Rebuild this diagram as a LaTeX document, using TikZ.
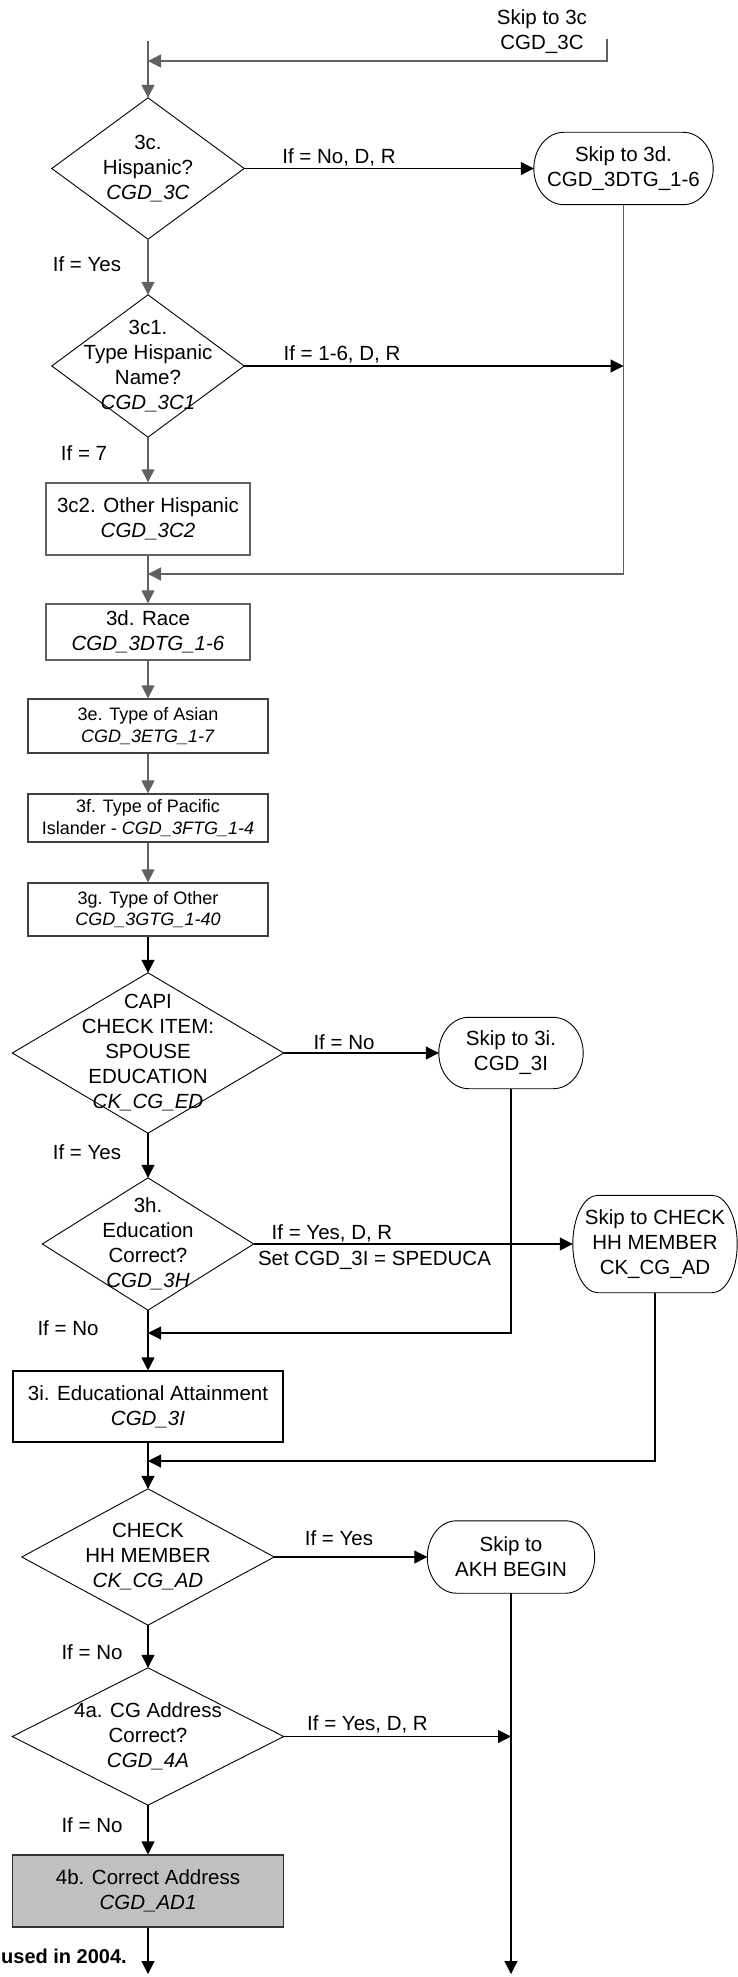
\documentclass[tikz,border=0pt]{standalone}
\usepackage{fontspec}
\setmainfont{Liberation Sans}
\usetikzlibrary{arrows.meta,calc}
\newcommand\fsn{\fontsize{20.5}{25}\selectfont}
\newcommand\fsm{\fontsize{18}{21.5}\selectfont}
\newcommand\termshape[3]{% node, x radius, style
  \draw[#3] let \p1=(#1.north), \p2=(#1.south), \n1={(\y1-\y2)/2} in
    ([xshift=#2]#1.north west) -- ([xshift=-#2]#1.north east)
    arc[start angle=90, end angle=-90, x radius=#2, y radius={\n1*1pt}]
    -- ([xshift=#2]#1.south west)
    arc[start angle=270, end angle=90, x radius=#2, y radius={\n1*1pt}] -- cycle;}
\newcommand\diamondshape[2]{\draw[#2] (#1.north) -- (#1.east) -- (#1.south) -- (#1.west) -- cycle;}
\begin{document}
\begin{tikzpicture}[x=1pt,y=-1pt,
  every node/.style={font=\fsn},
  ln/.style={draw=black, line width=1.1pt},
  lg/.style={draw=black!62, line width=1.4pt},
  ld/.style={draw=black, line width=0.9pt},
  arr/.style={-{Triangle[length=13pt,width=13pt]}},
  box/.style={rectangle, inner sep=0pt, align=center},
  lbl/.style={inner sep=0pt, anchor=center}
]
\useasboundingbox (0,0) rectangle (738,1977);
\clip (0,0) rectangle (738,1977);

% ---------- nodes ----------
\node[box] (s3c) at (542,31.5) {\fontsize{20.5}{27}\selectfont Skip to 3c\\CGD\_3C};
\node[box, minimum width=192pt, minimum height=141pt] (d3c) at (148,168.5) {3c.\\Hispanic?\\\textit{CGD\_3C}};
\node[box, minimum width=179pt, minimum height=72pt] (s3d) at (623.5,168.5) {Skip to 3d.\\CGD\_3DTG\_1-6};
\node[box, minimum width=192pt, minimum height=142pt] (d3c1) at (148,366) {3c1.\\Type Hispanic\\Name?\\\textit{CGD\_3C1}};
\node[box, minimum width=204pt, minimum height=72pt, draw=black!62, line width=1.4pt] (b3c2) at (148,519) {3c2. Other Hispanic\\\textit{CGD\_3C2}};
\node[box, minimum width=204pt, minimum height=56pt, draw=black!62, line width=1.4pt] (b3d) at (148,632) {3d. Race\\\textit{CGD\_3DTG\_1-6}};
\node[box, font=\fsm, minimum width=240pt, minimum height=54pt, draw=black!75, line width=1.3pt] (b3e) at (148,726) {3e. Type of Asian\\\textit{CGD\_3ETG\_1-7}};
\node[box, font=\fsm, minimum width=240pt, minimum height=48pt, draw=black!75, line width=1.3pt] (b3f) at (148,818) {3f. Type of Pacific\\Islander - \textit{CGD\_3FTG\_1-4}};
\node[box, font=\fsm, minimum width=240pt, minimum height=53pt, draw=black!75, line width=1.3pt] (b3g) at (148,909.5) {3g. Type of Other\\\textit{CGD\_3GTG\_1-40}};
\node[box, minimum width=271pt, minimum height=160pt] (dcapi) at (148,1053) {CAPI\\CHECK ITEM:\\SPOUSE\\EDUCATION\\\textit{CK\_CG\_ED}};
\node[box, minimum width=144pt, minimum height=71pt] (s3i) at (511,1053) {Skip to 3i.\\CGD\_3I};
\node[box, minimum width=211pt, minimum height=132pt] (d3h) at (148,1244) {3h.\\Education\\Correct?\\\textit{CGD\_3H}};
\node[box, minimum width=164pt, minimum height=97pt] (sck) at (655,1244) {Skip to CHECK\\HH MEMBER\\CK\_CG\_AD};
\node[box, minimum width=270pt, minimum height=71pt, draw=black, line width=1.1pt] (b3i) at (148,1406.5) {3i. Educational Attainment\\\textit{CGD\_3I}};
\node[box, minimum width=252pt, minimum height=136pt] (dck) at (148,1557) {CHECK\\HH MEMBER\\\textit{CK\_CG\_AD}};
\node[box, minimum width=167pt, minimum height=72pt] (sakh) at (511,1557) {Skip to\\AKH BEGIN};
\node[box, minimum width=271pt, minimum height=137pt] (d4a) at (148,1736.5) {4a. CG Address\\Correct?\\\textit{CGD\_4A}};
\node[box, minimum width=271pt, minimum height=72pt, draw=black!80, line width=1.1pt, fill={rgb,255:red,192;green,192;blue,192}] (b4b) at (148,1891) {4b. Correct Address\\\textit{CGD\_AD1}};

% ---------- outlines ----------
\diamondshape{d3c}{ld}
\diamondshape{d3c1}{ld}
\diamondshape{dcapi}{ld}
\diamondshape{d3h}{ld}
\diamondshape{dck}{ld}
\diamondshape{d4a}{ld}
\termshape{s3d}{30pt}{ld}
\termshape{s3i}{30pt}{ld}
\termshape{sck}{25pt}{ld}
\termshape{sakh}{29pt}{ld}

% ---------- labels ----------
\node[lbl] (l1) at (339,157) {If = No, D, R};
\node[lbl] (l2) at (87,264) {If = Yes};
\node[lbl] (l3) at (342,354) {If = 1-6, D, R};
\node[lbl] (l4) at (84,453) {If = 7};
\node[lbl] (l5) at (344,1042) {If = No};
\node[lbl] (l6) at (87,1152) {If = Yes};
\node[lbl] (l7) at (332,1233) {If = Yes, D, R};
\node[lbl] (l8) at (374.5,1260) {Set CGD\_3I = SPEDUCA};
\node[lbl] (l9) at (68,1328) {If = No};
\node[lbl] (l10) at (339,1538) {If = Yes};
\node[lbl] (l11) at (92,1652) {If = No};
\node[lbl] (l12) at (367.5,1724) {If = Yes, D, R};
\node[lbl] (l13) at (92,1825) {If = No};
\node[lbl, anchor=east, font=\fontsize{20}{24}\selectfont\bfseries] (note) at (127,1956) {used in 2004.};

% ---------- coordinates ----------
\coordinate (top) at (148,41);
\coordinate (s3cA) at (607,39);
\coordinate (s3cB) at (607,61);
\coordinate (j0) at (148,61);
\coordinate (m1) at (148,574);
\coordinate (m2) at (148,1333);
\coordinate (m3) at (148,1461);
\coordinate (endL) at (148,1974);
\coordinate (endR) at (511,1974);

% ---------- connectors ----------
\draw[lg,arr] (top) -- (d3c.north);
\draw[lg,arr] (s3cA) -- (s3cB) -- (j0);
\draw[ln,arr] (d3c.east) -- (s3d.west);
\draw[lg,arr] (d3c.south) -- (d3c1.north);
\draw[ln,arr] (d3c1.east) -- (s3d.south |- d3c1.east);
\draw[lg,arr] (s3d.south) |- (m1);
\draw[lg,arr] (d3c1.south) -- (b3c2.north);
\draw[lg,arr] (b3c2.south) -- (b3d.north);
\draw[lg,arr] (b3d.south) -- (b3e.north);
\draw[lg,arr] (b3e.south) -- (b3f.north);
\draw[lg,arr] (b3f.south) -- (b3g.north);
\draw[ln,arr] (b3g.south) -- (dcapi.north);
\draw[ln,arr] (dcapi.east) -- (s3i.west);
\draw[ln,arr] (dcapi.south) -- (d3h.north);
\draw[ln,arr] (d3h.east) -- (sck.west);
\draw[ln,arr] (s3i.south) |- (m2);
\draw[ln,arr] (d3h.south) -- (b3i.north);
\draw[ln,arr] (sck.south) |- (m3);
\draw[ln,arr] (b3i.south) -- (dck.north);
\draw[ln,arr] (dck.east) -- (sakh.west);
\draw[ln,arr] (sakh.south) -- (endR);
\draw[ln,arr] (dck.south) -- (d4a.north);
\draw[ln,arr] (d4a.east) -- (sakh.south |- d4a.east);
\draw[ln,arr] (d4a.south) -- (b4b.north);
\draw[ln,arr] (b4b.south) -- (endL);
\end{tikzpicture}
\end{document}
